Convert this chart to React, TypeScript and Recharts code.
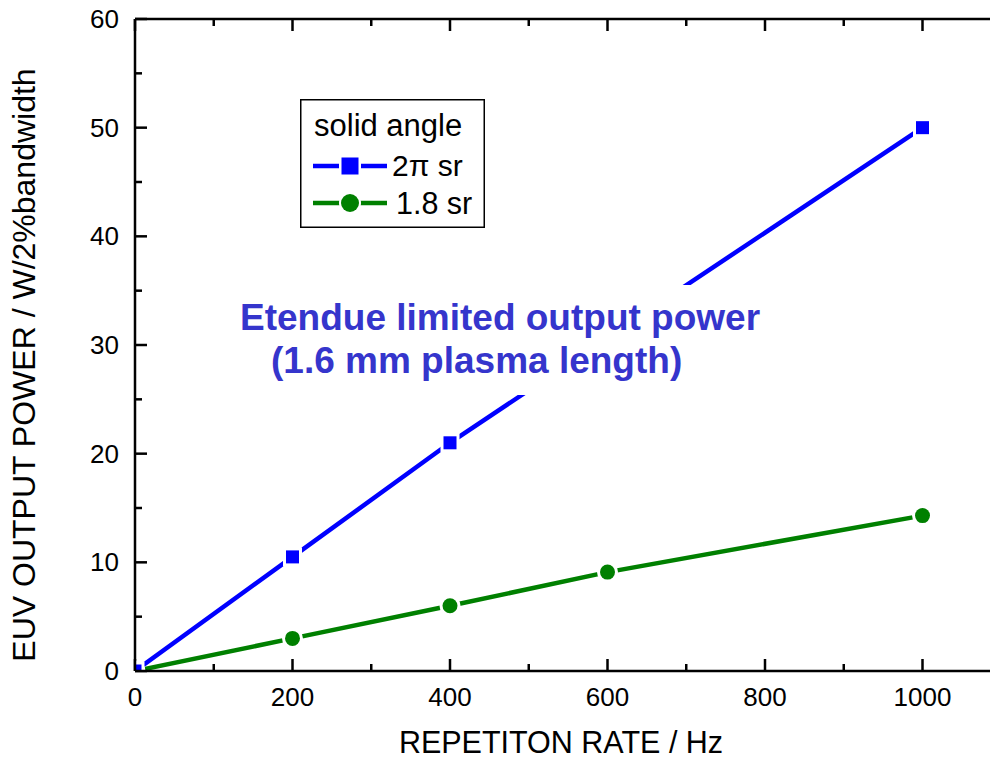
import React from "react";
import { LineChart, Line, XAxis, YAxis, Legend, Customized } from "recharts";

const repRates2pi = [0, 200, 400, 1000];
const power2pi = [0, 10.5, 21, 50];
const repRates18 = [0, 200, 400, 600, 1000];
const power18 = [0, 3, 6, 9.1, 14.3];

const xTicks = [0, 100, 200, 300, 400, 500, 600, 700, 800, 900, 1000, 1100];
const yTicks = [0, 5, 10, 15, 20, 25, 30, 35, 40, 45, 50, 55, 60];
const xMajorLabels = [0, 200, 400, 600, 800, 1000];
const yMajorLabels = [0, 10, 20, 30, 40, 50, 60];

const xTitle = "REPETITON RATE / Hz";
const yTitle = "EUV OUTPUT POWER / W/2%bandwidth";
const noteLine1 = "Etendue limited output power";
const noteLine2 = "(1.6 mm plasma length)";
const legendTitle = "solid angle";
const legendNames = ["2\u03C0 sr", "1.8 sr"];

const data2pi = repRates2pi.map((x, i) => ({ x, y: power2pi[i] }));
const data18 = repRates18.map((x, i) => ({ x, y: power18[i] }));

const FONT = "'Liberation Sans', Arial, Helvetica, sans-serif";
const BLUE = "#0000ff";
const GREEN = "#008000";
const NOTE = "#3535cc";

const BottomTick = (props: any) => {
  const { x, y, payload } = props;
  const v = payload.value;
  const major = xMajorLabels.includes(v);
  return (
    <g>
      <line x1={x} y1={y} x2={x} y2={y - (major ? 12 : 7)} stroke="#000" strokeWidth={2.5} />
      {major && (
        <text x={x} y={y + 35} textAnchor="middle" fontSize={26} fontFamily={FONT} fill="#000">
          {v}
        </text>
      )}
    </g>
  );
};

const TopTick = (props: any) => {
  const { x, y, payload } = props;
  const major = xMajorLabels.includes(payload.value);
  return <line x1={x} y1={y} x2={x} y2={y + (major ? 12 : 7)} stroke="#000" strokeWidth={2.5} />;
};

const LeftTick = (props: any) => {
  const { x, y, payload } = props;
  const v = payload.value;
  const major = yMajorLabels.includes(v);
  return (
    <g>
      <line x1={x} y1={y} x2={x + (major ? 12 : 7)} y2={y} stroke="#000" strokeWidth={2.5} />
      {major && (
        <text x={x - 16} y={y + 9} textAnchor="end" fontSize={26} fontFamily={FONT} fill="#000">
          {v}
        </text>
      )}
    </g>
  );
};

const SquareDot = (props: any) => {
  const { cx, cy, index } = props;
  if (cx == null || cy == null) return <g key={`s${index}`} />;
  return (
    <g key={`s${index}`}>
      <rect x={cx - 9.5} y={cy - 9.5} width={19} height={19} fill="#fff" />
      <rect x={cx - 6.5} y={cy - 6.5} width={13} height={13} fill={BLUE} />
    </g>
  );
};

const CircleDot = (props: any) => {
  const { cx, cy, index } = props;
  if (cx == null || cy == null) return <g key={`c${index}`} />;
  return (
    <g key={`c${index}`}>
      <circle cx={cx} cy={cy} r={10.5} fill="#fff" />
      <circle cx={cx} cy={cy} r={7.5} fill={GREEN} />
    </g>
  );
};

const LegendBox = () => (
  <svg width={185} height={129} style={{ display: "block" }}>
    <rect x={0.75} y={0.75} width={183.5} height={127.5} fill="#fff" stroke="#000" strokeWidth={1.5} />
    <text x={14} y={37} fontSize={31} fontFamily={FONT} fill="#000">
      {legendTitle}
    </text>
    <line x1={13} y1={67} x2={87} y2={67} stroke={BLUE} strokeWidth={4.5} />
    <rect x={39} y={56} width={22} height={22} fill="#fff" />
    <rect x={41.5} y={58.5} width={17} height={17} fill={BLUE} />
    <text x={92} y={77} fontSize={30} fontFamily={FONT} fill="#000">
      {legendNames[0]}
    </text>
    <line x1={13} y1={104} x2={87} y2={104} stroke={GREEN} strokeWidth={4.5} />
    <circle cx={50} cy={104} r={11} fill="#fff" />
    <circle cx={50} cy={104} r={9} fill={GREEN} />
    <text x={96} y={115} fontSize={30.5} fontFamily={FONT} fill="#000">
      {legendNames[1]}
    </text>
  </svg>
);

const AxisTitles = () => (
  <g>
    <text x={561} y={753} textAnchor="middle" fontSize={30.5} fontFamily={FONT} fill="#000">
      {xTitle}
    </text>
    <text
      x={35}
      y={365}
      textAnchor="middle"
      fontSize={32}
      fontFamily={FONT}
      fill="#000"
      transform="rotate(-90 35 365)"
    >
      {yTitle}
    </text>
  </g>
);

const Annotation = () => (
  <svg
    width={990}
    height={760}
    style={{ position: "absolute", left: 0, top: 0, pointerEvents: "none" }}
  >
    <rect x={237} y={285} width={533} height={110} fill="#fff" />
    <text x={240} y={330} fontSize={37} fontWeight="bold" fontFamily={FONT} fill={NOTE}>
      {noteLine1}
    </text>
    <text x={271} y={373} fontSize={37} fontWeight="bold" fontFamily={FONT} fill={NOTE}>
      {noteLine2}
    </text>
  </svg>
);

export default function App() {
  return (
    <div
      style={{
        position: "fixed",
        left: 0,
        top: 0,
        width: 990,
        height: 760,
        overflow: "hidden",
        background: "#fff",
      }}
    >
      <LineChart
        width={1030}
        height={760}
        margin={{ top: 18, right: 28.75, bottom: 29, left: 55 }}
        style={{ fontFamily: FONT }}
      >
        <XAxis
          xAxisId="bottom"
          dataKey="x"
          type="number"
          domain={[0, 1100]}
          ticks={xTicks}
          interval={0}
          orientation="bottom"
          height={60}
          tickSize={0}
          tickMargin={0}
          tickLine={false}
          tick={<BottomTick />}
          axisLine={{ stroke: "#000", strokeWidth: 2.5 }}
          allowDataOverflow
        />
        <XAxis
          xAxisId="top"
          dataKey="x"
          type="number"
          domain={[0, 1100]}
          ticks={xTicks}
          interval={0}
          orientation="top"
          height={1}
          tickSize={0}
          tickMargin={0}
          tickLine={false}
          tick={<TopTick />}
          axisLine={{ stroke: "#000", strokeWidth: 2.5 }}
          allowDataOverflow
        />
        <YAxis
          yAxisId="left"
          type="number"
          domain={[0, 60]}
          ticks={yTicks}
          interval={0}
          width={80}
          tickSize={0}
          tickMargin={0}
          tickLine={false}
          tick={<LeftTick />}
          axisLine={{ stroke: "#000", strokeWidth: 2.5 }}
          allowDataOverflow
        />
        <Line
          xAxisId="bottom"
          yAxisId="left"
          data={data18}
          dataKey="y"
          stroke={GREEN}
          strokeWidth={4.5}
          dot={CircleDot}
          activeDot={false}
          isAnimationActive={false}
          legendType="none"
        />
        <Line
          xAxisId="bottom"
          yAxisId="left"
          data={data2pi}
          dataKey="y"
          stroke={BLUE}
          strokeWidth={4.5}
          dot={SquareDot}
          activeDot={false}
          isAnimationActive={false}
          legendType="none"
        />
        <Customized component={<AxisTitles />} />
        <Legend
          layout="horizontal"
          verticalAlign="middle"
          align="center"
          content={() => <LegendBox />}
          wrapperStyle={{ left: 300, top: 99, width: 185, height: 129 }}
        />
      </LineChart>
      <Annotation />
    </div>
  );
}
